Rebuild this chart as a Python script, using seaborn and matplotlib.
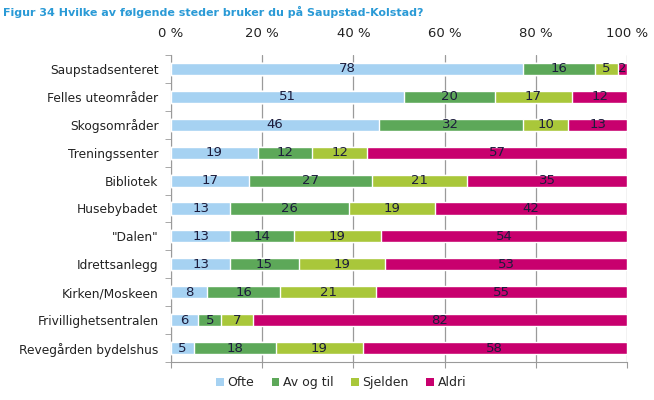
import numpy as np
import pandas as pd
import matplotlib
matplotlib.use("Agg")
import matplotlib.pyplot as plt
import seaborn as sns
from matplotlib.patches import Patch

places = ["Saupstadsenteret", "Felles uteområder", "Skogsområder", "Treningssenter",
          "Bibliotek", "Husebybadet", "\"Dalen\"", "Idrettsanlegg", "Kirken/Moskeen",
          "Frivillighetsentralen", "Revegården bydelshus"]
ofte = [78, 51, 46, 19, 17, 13, 13, 13, 8, 6, 5]
av_og_til = [16, 20, 32, 12, 27, 26, 14, 15, 16, 5, 18]
sjelden = [5, 17, 10, 12, 21, 19, 19, 19, 21, 7, 19]
aldri = [2, 12, 13, 57, 35, 42, 54, 53, 55, 82, 58]
series_names = ["Ofte", "Av og til", "Sjelden", "Aldri"]
colors = ["#A6D2F2", "#5DA859", "#A9C73A", "#C8006E"]
xticks = [0, 20, 40, 60, 80, 100]

sns.set_style("white")
plt.rcParams['font.family'] = ['DejaVu Sans']

fig = plt.figure(figsize=(6.54, 4.0), dpi=100)
ax = fig.add_axes([171/654, 1-362/400, (627-171)/654, (362-55)/400])

series = np.array([ofte, av_og_til, sjelden, aldri], dtype=float)
totals = series.sum(axis=0)
share = series / totals * 100  # 100 % stacked
cum = np.cumsum(share, axis=0)
for i in range(3, -1, -1):
    df = pd.DataFrame({"place": places, "val": cum[i]})
    sns.barplot(data=df, y="place", x="val", order=places, color=colors[i],
                orient="h", width=0.43, saturation=1, ax=ax, zorder=3)

for i in range(4):
    for j, p in enumerate(places):
        v = series[i][j]
        mid = cum[i][j] - share[i][j] / 2
        ax.text(mid, j, f"{int(v)}", ha="center", va="center", fontsize=9.5,
                color="#1c1c3c", zorder=4)

ax.set_xlim(0, 100)
ax.set_ylim(len(places)-0.5, -0.5)
ax.set_xticks(xticks)
ax.set_xticklabels([f"{t} %" for t in xticks], fontsize=9.5, color="#222222")
ax.tick_params(axis="x", which="major", top=False, bottom=True, labeltop=True,
               labelbottom=False, length=4, color="#9a9a9a", pad=7)
ax.set_yticks(range(len(places)))
ax.set_yticklabels(places, fontsize=8.8, color="#222222")
ax.tick_params(axis="y", which="major", length=0, pad=9)
ax.set_xlabel("")
ax.set_ylabel("")
ax.grid(axis="x", color="#9a9a9a", linewidth=0.9, zorder=0)
ax.grid(axis="y", visible=False)
for s in ["top", "right"]:
    ax.spines[s].set_visible(False)
ax.spines["left"].set_color("#9a9a9a")
ax.spines["bottom"].set_color("#9a9a9a")
ax.set_yticks(np.arange(-0.5, len(places), 1.0), minor=True)
ax.tick_params(axis="y", which="minor", length=4, color="#9a9a9a", left=True)

fig.text(0.005, 0.985, "Figur 34 Hvilke av følgende steder bruker du på Saupstad-Kolstad?",
         fontsize=8, fontweight="bold", color="#2A9AD6", ha="left", va="top")

handles = [Patch(facecolor=c, edgecolor="none", label=n) for c, n in zip(colors, series_names)]
fig.legend(handles=handles, loc="center", bbox_to_anchor=(0.522, 0.043), ncol=4,
           frameon=False, fontsize=9, handlelength=0.6, handleheight=0.6,
           handletextpad=0.3, columnspacing=1.4)

fig.savefig("out.png", dpi=100)
